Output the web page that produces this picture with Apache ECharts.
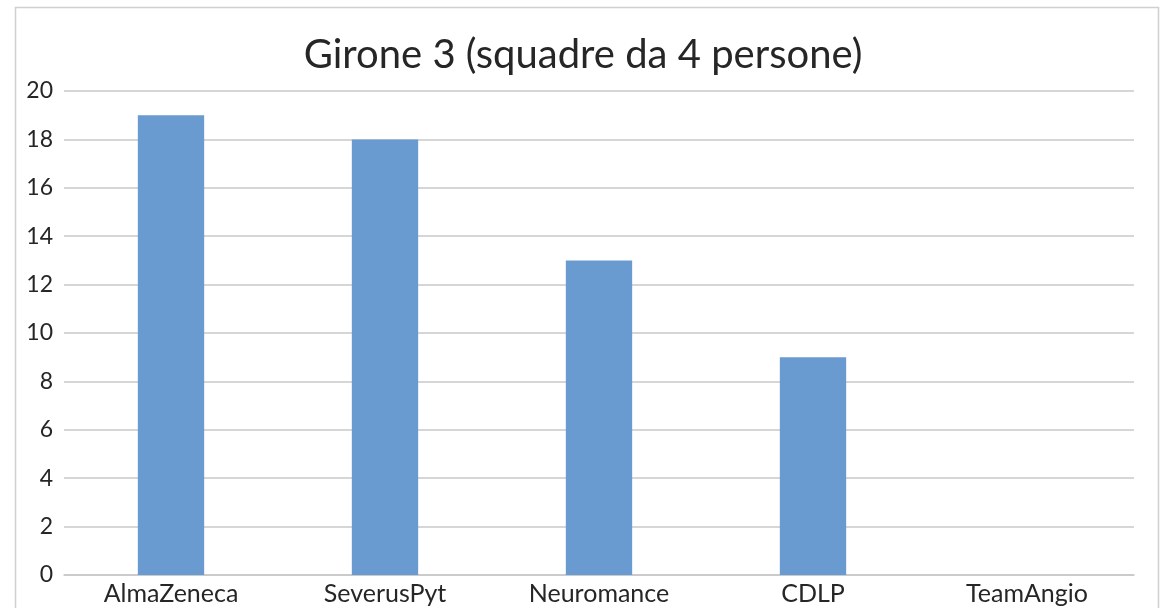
<!DOCTYPE html>
<html>
<head>
<meta charset="utf-8">
<script src="https://cdn.jsdelivr.net/npm/echarts@6/dist/echarts.min.js"></script>
<style>
  html, body { margin: 0; padding: 0; background: #fff; }
  #chart { width: 1166px; height: 608px; }
</style>
</head>
<body>
<div id="chart"></div>
<script>
const chartTitle = 'Girone 3 (squadre da 4 persone)';
const teams = ['AlmaZeneca', 'SeverusPyt', 'Neuromance', 'CDLP', 'TeamAngio'];
const points = [19, 18, 13, 9, 0];

const chart = echarts.init(document.getElementById('chart'));

chart.setOption({
  animation: false,
  title: {
    text: chartTitle,
    left: 'center',
    top: 30,
    textStyle: { fontFamily: 'Lato', fontSize: 40, fontWeight: 'normal', color: '#262626' }
  },
  graphic: [{
    type: 'rect',
    shape: { x: 15.5, y: 7.5, width: 1143, height: 620 },
    style: { fill: null, stroke: '#d0d0d0', lineWidth: 1.5 },
    silent: true
  }],
  grid: { left: 64, right: 32, top: 91, bottom: 33, containLabel: false },
  xAxis: {
    type: 'category',
    data: teams,
    axisLine: { lineStyle: { color: '#c8c8c8', width: 1.5 } },
    axisTick: { show: false },
    axisLabel: { fontFamily: 'Lato', fontSize: 25, color: '#262626', margin: 6 }
  },
  yAxis: {
    type: 'value',
    min: 0,
    max: 20,
    interval: 2,
    axisLine: { show: false },
    axisTick: { show: false },
    splitLine: { lineStyle: { color: '#c8c8c8', width: 1.5 } },
    axisLabel: { fontFamily: 'Lato', fontSize: 23, color: '#262626', margin: 11 }
  },
  series: [{
    type: 'bar',
    data: points,
    barWidth: '31%',
    itemStyle: { color: '#6a9bd0' }
  }]
});
</script>
</body>
</html>
